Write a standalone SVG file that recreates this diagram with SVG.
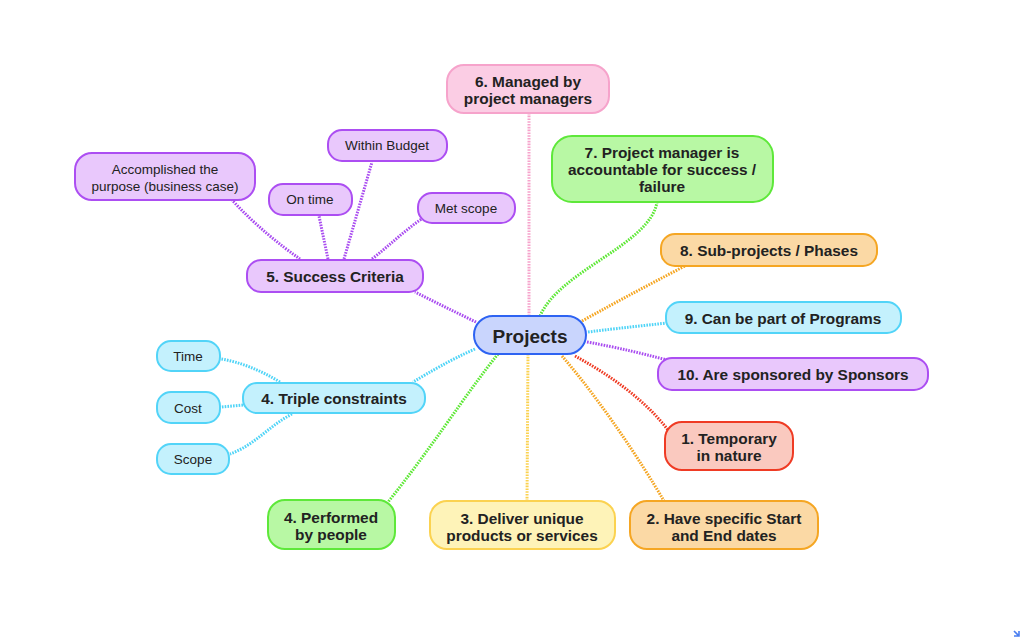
<svg xmlns="http://www.w3.org/2000/svg" width="1024" height="639" viewBox="0 0 1024 639">
<style>
text{font-family:"Liberation Sans",Arial,Helvetica,sans-serif;fill:#222;text-anchor:middle;dominant-baseline:central}
.b{font-weight:bold;font-size:15.4px}
.r{font-size:13.5px}
.n rect{stroke-width:2}
.c path{fill:none;stroke-width:3;stroke-dasharray:1.6 1.2}
.pk{fill:#fbcde4;stroke:#f6a3cb}.gr{fill:#b8f8a4;stroke:#5ee83a}.or{fill:#fbd9a5;stroke:#f5a623}
.cy{fill:#c4f1fd;stroke:#52d4f8}.pu{fill:#e9c8fc;stroke:#ac4ef2}.rd{fill:#fac9bf;stroke:#ef3b24}
.ye{fill:#fef3b8;stroke:#fbd250}.bl{fill:#c9d5fd;stroke:#2e63f2}
</style>
<rect width="1024" height="639" fill="#fff"/>
<g id="connectors" class="c">
<path d="M529,316 L529,113" stroke="#f6a3cb"/>
<path d="M540,316 C560,270 650,245 657,202" stroke="#5de835"/>
<path d="M582,321 C620,300 650,284 685,266" stroke="#f5a623"/>
<path d="M588,332 C620,328 640,326 667,323" stroke="#4fd4f7"/>
<path d="M587,342 C620,348 640,353 667,360" stroke="#a94cf0"/>
<path d="M575,356 C610,375 645,400 668,430" stroke="#ef3a22"/>
<path d="M562,356 C600,400 640,460 664,501" stroke="#f5a623"/>
<path d="M528,354 L527,501" stroke="#fbd250"/>
<path d="M498,354 C465,395 430,450 388,502" stroke="#5de835"/>
<path d="M475,349 C450,360 430,372 413,382" stroke="#4fd4f7"/>
<path d="M476,322 C455,312 435,302 415,292" stroke="#a94cf0"/>
<path d="M300,259 C280,245 255,225 232,200" stroke="#a94cf0"/>
<path d="M328,259 L319,216" stroke="#a94cf0"/>
<path d="M344,259 L372,162" stroke="#a94cf0"/>
<path d="M372,259 C390,245 405,230 423,218" stroke="#a94cf0"/>
<path d="M280,382 C260,370 240,362 221,359" stroke="#4fd4f7"/>
<path d="M243,405 L221,407" stroke="#4fd4f7"/>
<path d="M292,414 C270,425 255,445 230,454" stroke="#4fd4f7"/>
</g>
<g class="n">
<g id="projects"><rect class="bl" x="474" y="316" width="112" height="38" rx="19"/><text x="530" y="336" style="font-weight:bold;font-size:19px">Projects</text></g>
<g id="n6"><rect class="pk" x="447" y="65" width="162" height="48" rx="17"/><text class="b" x="528" y="81">6. Managed by</text><text class="b" x="528" y="98">project managers</text></g>
<g id="n7"><rect class="gr" x="552" y="136" width="221" height="66" rx="20"/><text class="b" x="662" y="152">7. Project manager is</text><text class="b" x="662" y="169">accountable for success /</text><text class="b" x="662" y="186">failure</text></g>
<g id="n8"><rect class="or" x="661" y="234" width="216" height="32" rx="14"/><text class="b" x="769" y="250">8. Sub-projects / Phases</text></g>
<g id="n9"><rect class="cy" x="666" y="302" width="235" height="31" rx="14"/><text class="b" x="783" y="318">9. Can be part of Programs</text></g>
<g id="n10"><rect class="pu" x="658" y="358" width="270" height="32" rx="14"/><text class="b" x="793" y="374">10. Are sponsored by Sponsors</text></g>
<g id="n1"><rect class="rd" x="665" y="422" width="128" height="48" rx="17"/><text class="b" x="729" y="438">1. Temporary</text><text class="b" x="729" y="455">in nature</text></g>
<g id="n2"><rect class="or" x="630" y="501" width="188" height="48" rx="17"/><text class="b" x="724" y="518">2. Have specific Start</text><text class="b" x="724" y="535">and End dates</text></g>
<g id="n3"><rect class="ye" x="430" y="501" width="185" height="48" rx="17"/><text class="b" x="522" y="518">3. Deliver unique</text><text class="b" x="522" y="535">products or services</text></g>
<g id="n4p"><rect class="gr" x="268" y="500" width="127" height="49" rx="17"/><text class="b" x="331" y="517">4. Performed</text><text class="b" x="331" y="534">by people</text></g>
<g id="n4t"><rect class="cy" x="243" y="383" width="182" height="30" rx="14"/><text class="b" x="334" y="398">4. Triple constraints</text></g>
<g id="time"><rect class="cy" x="157" y="341" width="63" height="30" rx="14"/><text class="r" x="188" y="356">Time</text></g>
<g id="cost"><rect class="cy" x="157" y="392" width="63" height="31" rx="14"/><text class="r" x="188" y="408">Cost</text></g>
<g id="scope"><rect class="cy" x="157" y="444" width="72" height="30" rx="14"/><text class="r" x="193" y="459">Scope</text></g>
<g id="n5"><rect class="pu" x="247" y="260" width="176" height="32" rx="14"/><text class="b" x="335" y="276">5. Success Criteria</text></g>
<g id="acc"><rect class="pu" x="75" y="153" width="180" height="47" rx="17"/><text class="r" x="165" y="169">Accomplished the</text><text class="r" x="165" y="186">purpose (business case)</text></g>
<g id="ontime"><rect class="pu" x="269" y="184" width="83" height="31" rx="14"/><text class="r" x="310" y="199">On time</text></g>
<g id="budget"><rect class="pu" x="328" y="130" width="119" height="31" rx="14"/><text class="r" x="387" y="145">Within Budget</text></g>
<g id="met"><rect class="pu" x="418" y="193" width="97" height="30" rx="14"/><text class="r" x="466" y="208">Met scope</text></g>
</g>
<path d="M1014,631 L1019,636 M1019,631 L1019,636 L1014,636" fill="none" stroke="#4a7ef0" stroke-width="1.6"/>
</svg>
